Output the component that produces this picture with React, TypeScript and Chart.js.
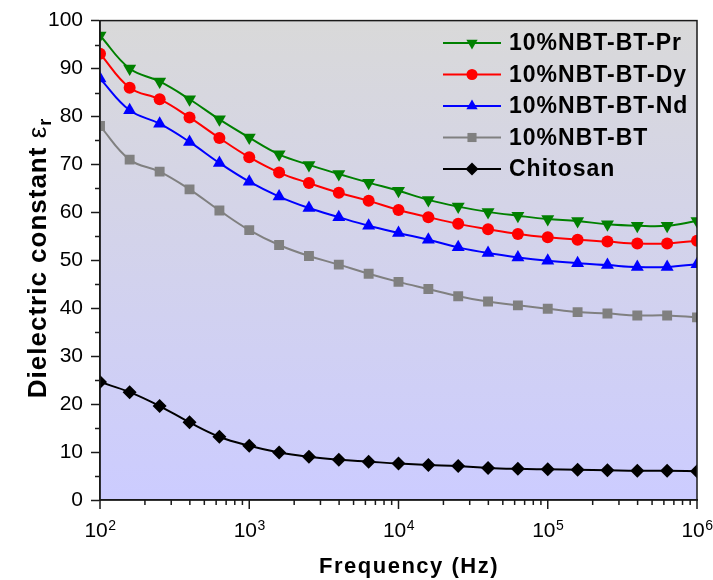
import React, { useEffect, useRef } from 'react';
import { Chart, registerables } from 'chart.js';

Chart.register(...registerables);

// ---- data ----
const frequencies = [100, 158, 251, 398, 631, 1000, 1585, 2512, 3981, 6310, 10000, 15849, 25119, 39811, 63096, 100000, 158489, 251189, 398107, 630957, 1000000];
const prValues = [96.9, 90.0, 87.3, 83.6, 79.4, 75.6, 72.1, 69.9, 68.0, 66.2, 64.5, 62.6, 61.2, 60.1, 59.3, 58.6, 58.2, 57.5, 57.2, 57.2, 58.2];
const dyValues = [93.1, 86.0, 83.6, 79.8, 75.5, 71.5, 68.3, 66.1, 64.1, 62.4, 60.5, 59.0, 57.6, 56.5, 55.5, 54.8, 54.3, 53.9, 53.5, 53.5, 54.1];
const ndValues = [87.9, 81.3, 78.5, 74.7, 70.3, 66.4, 63.3, 60.9, 59.0, 57.2, 55.7, 54.3, 52.7, 51.5, 50.6, 49.9, 49.4, 49.0, 48.6, 48.6, 49.2];
const btValues = [78.0, 71.0, 68.5, 64.8, 60.4, 56.3, 53.2, 50.9, 49.1, 47.2, 45.5, 44.0, 42.5, 41.4, 40.6, 39.9, 39.2, 38.9, 38.5, 38.5, 38.1];
const chitosanValues = [24.6, 22.5, 19.6, 16.2, 13.2, 11.3, 9.9, 9.0, 8.4, 8.0, 7.6, 7.3, 7.1, 6.7, 6.5, 6.4, 6.3, 6.2, 6.1, 6.1, 6.0];

const seriesLabels = ['10%NBT-BT-Pr', '10%NBT-BT-Dy', '10%NBT-BT-Nd', '10%NBT-BT', 'Chitosan'];
const xMajorExponents = [2, 3, 4, 5, 6];
const yMinorTicks = [5, 15, 25, 35, 45, 55, 65, 75, 85, 95];
const xTitle = 'Frequency (Hz)';
const yTitleMain = 'Dielectric constant ';
const yTitleSymbol = 'ε';
const yTitleSub = 'r';

const FONT = '"Liberation Sans", Arial, sans-serif';

type Marker = 'triDown' | 'circle' | 'triUp' | 'square' | 'diamond';

const seriesStyle: { color: string; marker: Marker }[] = [
  { color: '#008000', marker: 'triDown' },
  { color: '#ff0000', marker: 'circle' },
  { color: '#0000ff', marker: 'triUp' },
  { color: '#808080', marker: 'square' },
  { color: '#000000', marker: 'diamond' },
];

function drawMarker(ctx: CanvasRenderingContext2D, m: Marker, x: number, y: number, r: number, color: string) {
  ctx.save();
  ctx.fillStyle = color;
  ctx.beginPath();
  if (m === 'circle') {
    ctx.arc(x, y, r * 0.85, 0, Math.PI * 2);
  } else if (m === 'triDown') {
    ctx.moveTo(x, y + r);
    ctx.lineTo(x - r * 0.866, y - r / 2);
    ctx.lineTo(x + r * 0.866, y - r / 2);
    ctx.closePath();
  } else if (m === 'triUp') {
    ctx.moveTo(x, y - r);
    ctx.lineTo(x - r * 0.866, y + r / 2);
    ctx.lineTo(x + r * 0.866, y + r / 2);
    ctx.closePath();
  } else if (m === 'square') {
    const s = r * 0.7;
    ctx.rect(x - s, y - s, 2 * s, 2 * s);
  } else {
    ctx.moveTo(x, y - r);
    ctx.lineTo(x + r, y);
    ctx.lineTo(x, y + r);
    ctx.lineTo(x - r, y);
    ctx.closePath();
  }
  ctx.fill();
  ctx.restore();
}

const decorPlugin = {
  id: 'decor',
  beforeDraw(chart: any) {
    const { ctx, chartArea: a } = chart;
    const g = ctx.createLinearGradient(0, a.top, 0, a.bottom);
    g.addColorStop(0, '#d9d9d9');
    g.addColorStop(1, '#ccccff');
    ctx.save();
    ctx.fillStyle = g;
    ctx.fillRect(a.left, a.top, a.right - a.left, a.bottom - a.top);
    ctx.restore();
  },
  afterDraw(chart: any) {
    const { ctx, chartArea: a } = chart;
    const xs = chart.scales.x;
    const ys = chart.scales.y;
    ctx.save();
    // frame
    ctx.strokeStyle = '#1a1a1a';
    ctx.lineWidth = 1.5;
    ctx.strokeRect(a.left, a.top, a.right - a.left, a.bottom - a.top);
    // y minor ticks
    ctx.beginPath();
    for (const v of yMinorTicks) {
      const py = Math.round(ys.getPixelForValue(v)) + 0.5;
      ctx.moveTo(a.left - 5, py);
      ctx.lineTo(a.left, py);
    }
    // x ticks
    for (let i = 0; i < xMajorExponents.length; i++) {
      const e = xMajorExponents[i];
      const base = Math.pow(10, e);
      const px = xs.getPixelForValue(base);
      ctx.moveTo(px, a.bottom);
      ctx.lineTo(px, a.bottom + 9);
      if (i < xMajorExponents.length - 1) {
        for (let k = 2; k <= 9; k++) {
          const mx = xs.getPixelForValue(base * k);
          ctx.moveTo(mx, a.bottom);
          ctx.lineTo(mx, a.bottom + 5);
        }
      }
    }
    ctx.stroke();

    // x tick labels with superscripts
    ctx.fillStyle = '#000';
    ctx.textBaseline = 'alphabetic';
    ctx.textAlign = 'left';
    for (const e of xMajorExponents) {
      const px = xs.getPixelForValue(Math.pow(10, e));
      ctx.font = `21px ${FONT}`;
      const w1 = ctx.measureText('10').width;
      ctx.font = `14px ${FONT}`;
      const w2 = ctx.measureText(String(e)).width;
      const start = px - (w1 + w2) / 2;
      ctx.font = `21px ${FONT}`;
      ctx.fillText('10', start, a.bottom + 37);
      ctx.font = `14px ${FONT}`;
      ctx.fillText(String(e), start + w1 + 0.5, a.bottom + 30);
    }

    // x title
    ctx.font = `bold 22px ${FONT}`;
    (ctx as any).letterSpacing = '1.5px';
    ctx.textAlign = 'center';
    ctx.fillText(xTitle, 409, 573);

    // y title
    ctx.save();
    ctx.translate(46, 258);
    ctx.rotate(-Math.PI / 2);
    (ctx as any).letterSpacing = '1px';
    ctx.font = `bold 26px ${FONT}`;
    const wMain = ctx.measureText(yTitleMain).width;
    ctx.font = `26px ${FONT}`;
    const wSym = ctx.measureText(yTitleSymbol).width;
    ctx.font = `bold 18px ${FONT}`;
    const wSub = ctx.measureText(yTitleSub).width;
    const total = wMain + wSym + wSub;
    let cx = -total / 2;
    ctx.textAlign = 'left';
    ctx.font = `bold 26px ${FONT}`;
    ctx.fillText(yTitleMain, cx, 0);
    cx += wMain;
    ctx.font = `26px ${FONT}`;
    ctx.fillText(yTitleSymbol, cx, 0);
    cx += wSym;
    ctx.font = `bold 18px ${FONT}`;
    ctx.fillText(yTitleSub, cx, 5);
    ctx.restore();

    // legend
    (ctx as any).letterSpacing = '1px';
    for (let i = 0; i < seriesLabels.length; i++) {
      const y = 43 + i * 31.5;
      const st = seriesStyle[i];
      ctx.strokeStyle = st.color;
      ctx.lineWidth = 2;
      ctx.beginPath();
      ctx.moveTo(443, y);
      ctx.lineTo(501, y);
      ctx.stroke();
      drawMarker(ctx, st.marker, 472, y, 6.5, st.color);
      ctx.fillStyle = '#000';
      ctx.font = `bold 23px ${FONT}`;
      ctx.textAlign = 'left';
      ctx.textBaseline = 'middle';
      ctx.fillText(seriesLabels[i], 509, y + 1);
    }
    ctx.restore();
  },
};

const pointStyleFor = (m: Marker) =>
  m === 'triDown' || m === 'triUp' ? 'triangle' : m === 'circle' ? 'circle' : m === 'square' ? 'rect' : 'rectRot';

export default function App() {
  const ref = useRef<HTMLCanvasElement>(null);
  useEffect(() => {
    if (!ref.current) return;
    const values = [prValues, dyValues, ndValues, btValues, chitosanValues];
    const datasets = values.map((vals, i) => {
      const st = seriesStyle[i];
      const radius = st.marker === 'circle' ? 6 : st.marker === 'square' ? 7 : st.marker === 'diamond' ? 7 : 7.5;
      return {
        label: seriesLabels[i],
        data: frequencies.map((f, j) => ({ x: f, y: vals[j] })),
        borderColor: st.color,
        backgroundColor: st.color,
        borderWidth: 2,
        tension: 0.4,
        pointStyle: pointStyleFor(st.marker),
        pointRotation: st.marker === 'triDown' ? 180 : 0,
        pointRadius: radius,
        pointBorderWidth: 0,
        pointBackgroundColor: st.color,
        pointBorderColor: st.color,
      };
    });
    const chart = new Chart(ref.current, {
      type: 'line',
      data: { datasets } as any,
      options: {
        animation: false,
        responsive: false,
        devicePixelRatio: 1,
        layout: { padding: { left: 8, top: 20, right: 16, bottom: 0 } },
        plugins: { legend: { display: false }, tooltip: { enabled: false } },
        scales: {
          x: {
            type: 'logarithmic',
            min: 100,
            max: 1000000,
            ticks: { display: false },
            grid: { display: false },
            border: { display: true, color: '#1a1a1a', width: 1.5 },
            afterFit: (s: any) => { s.height = 80; },
          },
          y: {
            min: 0,
            max: 100,
            ticks: { stepSize: 10, color: '#000', padding: 8, font: { family: FONT, size: 21 } },
            grid: { drawOnChartArea: false, tickLength: 9, tickWidth: 1.5, tickColor: '#1a1a1a' },
            border: { display: true, color: '#1a1a1a', width: 1.5 },
            afterFit: (s: any) => { s.width = 92; },
          },
        },
      } as any,
      plugins: [decorPlugin],
    });
    return () => chart.destroy();
  }, []);
  return (
    <div style={{ position: 'fixed', left: 0, top: 0, width: 713, height: 580, background: '#fff' }}>
      <canvas ref={ref} width={713} height={580} style={{ display: 'block' }} />
    </div>
  );
}
